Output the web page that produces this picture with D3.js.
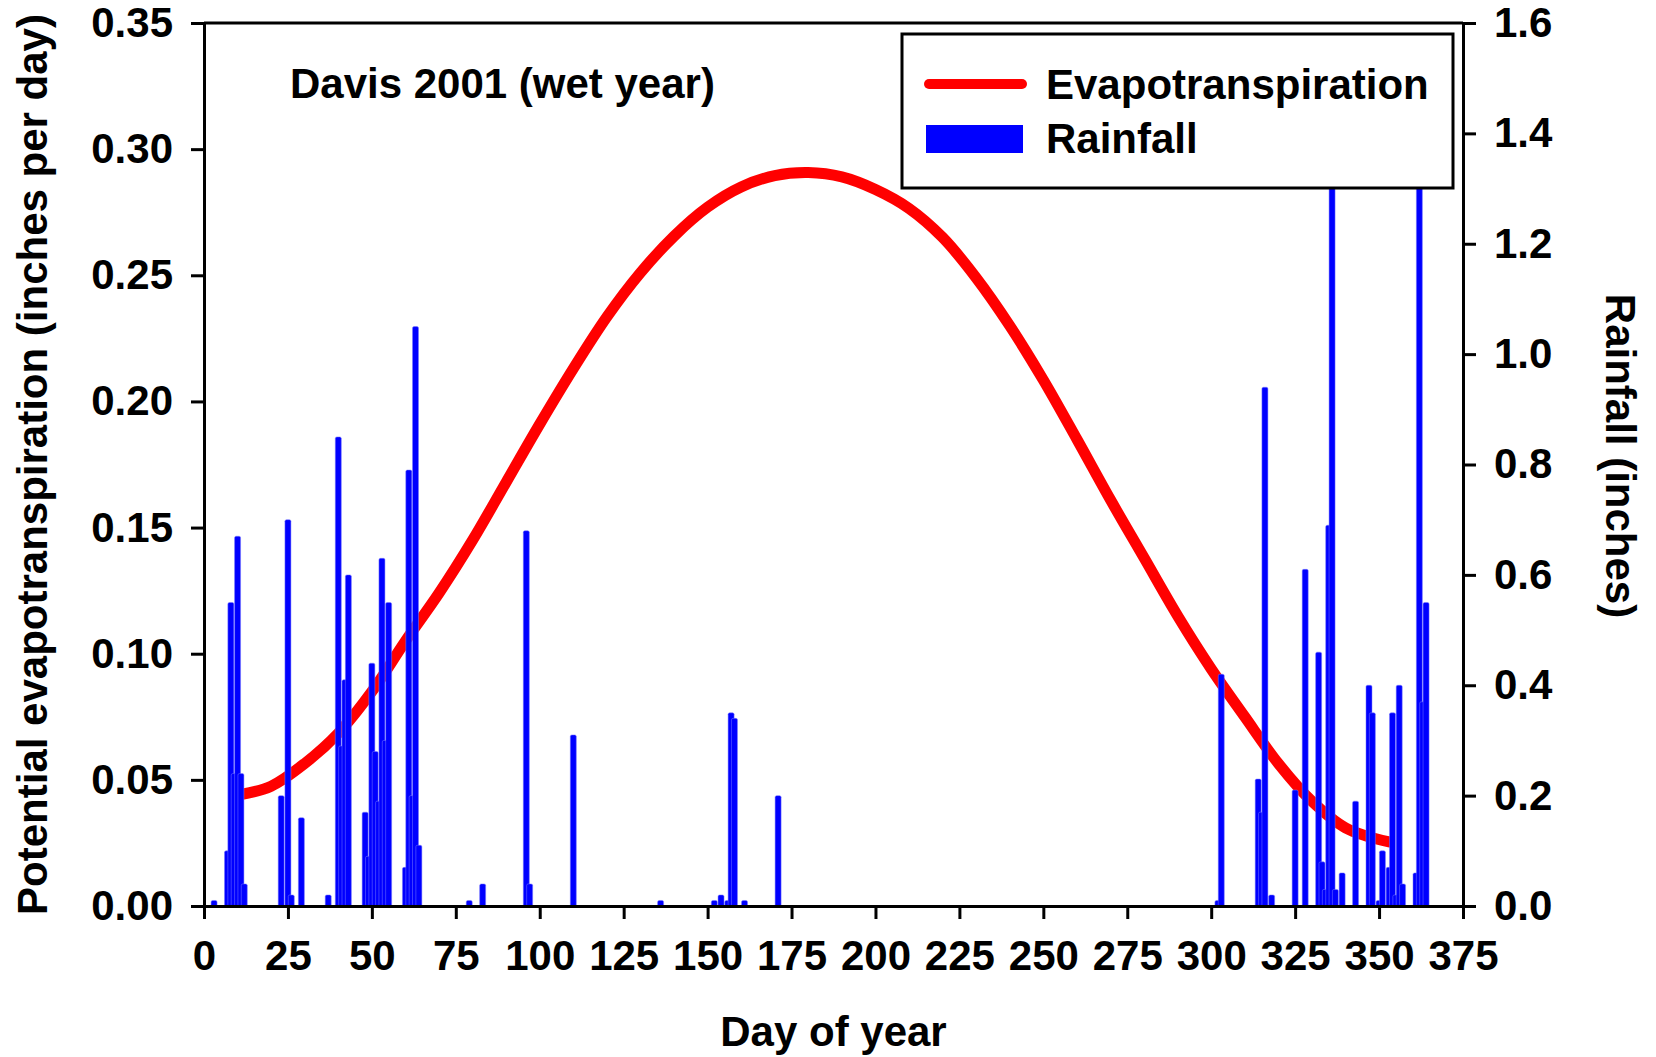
<!DOCTYPE html>
<html>
<head>
<meta charset="utf-8">
<script src="https://cdn.jsdelivr.net/npm/d3@7"></script>
<style>
  body { margin: 0; background: #fff; }
  svg text { font-family: "Liberation Sans", Arial, sans-serif; font-weight: bold; fill: #000; }
</style>
</head>
<body>
<svg id="chart"></svg>
<script>
// potential ET curve (day of year, inches per day)
const etDays = [11, 20, 30, 40, 50, 60, 70, 80, 90, 100, 110, 120, 130, 140, 150, 160, 170, 180,
  190, 200, 210, 220, 230, 240, 250, 260, 270, 280, 290, 300, 310, 320, 330, 340, 353];
const etValues = [0.0442, 0.0475, 0.0565, 0.0685, 0.0850, 0.1050, 0.1240, 0.1450, 0.1680, 0.1910,
  0.2130, 0.2335, 0.2510, 0.2655, 0.2770, 0.2850, 0.2895, 0.2907, 0.2890, 0.2840, 0.2765, 0.2650,
  0.2490, 0.2300, 0.2085, 0.1850, 0.1610, 0.1380, 0.1150, 0.0940, 0.0750, 0.0565, 0.0415, 0.0310, 0.0254];

// daily rainfall (inches)
const rainDays = [3, 7, 8, 9, 10, 11, 12, 23, 25, 26, 29, 37, 40, 41, 42, 43, 48, 49, 50, 51, 52, 53, 54, 55,
  60, 61, 62, 63, 64, 79, 83, 96, 97, 110, 136, 152, 154, 156, 157, 158, 161, 171,
  302, 303, 314, 315, 316, 318, 325, 328, 332, 333, 334, 335, 336, 337, 339, 343, 347, 348,
  350, 351, 353, 354, 355, 356, 357, 361, 362, 363, 364];
const rainValues = [0.01, 0.10, 0.55, 0.24, 0.67, 0.24, 0.04, 0.20, 0.70, 0.02, 0.16, 0.02, 0.85, 0.29, 0.41, 0.60,
  0.17, 0.09, 0.44, 0.28, 0.19, 0.63, 0.30, 0.55, 0.07, 0.79, 0.20, 1.05, 0.11, 0.01, 0.04, 0.68, 0.04, 0.31,
  0.01, 0.01, 0.02, 0.01, 0.35, 0.34, 0.01, 0.20,
  0.01, 0.42, 0.23, 0.17, 0.94, 0.02, 0.21, 0.61, 0.46, 0.08, 0.03, 0.69, 1.50, 0.03, 0.06, 0.19, 0.40, 0.35,
  0.01, 0.10, 0.07, 0.35, 0.02, 0.40, 0.04, 0.06, 1.50, 0.37, 0.55];

const xTicks = [0, 25, 50, 75, 100, 125, 150, 175, 200, 225, 250, 275, 300, 325, 350, 375];
const etTicks = [0, 0.05, 0.10, 0.15, 0.20, 0.25, 0.30, 0.35];
const rainTicks = [0, 0.2, 0.4, 0.6, 0.8, 1.0, 1.2, 1.4, 1.6];

const W = 1656, H = 1057;
const margin = {top: 23, right: 193, bottom: 151, left: 204};
const width = W - margin.left - margin.right,
      height = H - margin.top - margin.bottom;
const fontSize = "42px";

const svg = d3.select("#chart").attr("width", W).attr("height", H);
const chart = svg.append("g")
  .attr("transform", "translate(" + margin.left + "," + margin.top + ")");

const x = d3.scaleLinear().domain([0, 375]).range([0, width]);
const yEt = d3.scaleLinear().domain([0, 0.35]).range([height, 0]);
const yRain = d3.scaleLinear().domain([0, 1.6]).range([height, 0]);

// ET curve under the bars
const etData = etDays.map((d, i) => ({day: d, v: etValues[i]}));
chart.append("path")
  .datum(etData)
  .attr("fill", "none")
  .attr("stroke", "#ff0000")
  .attr("stroke-width", 11)
  .attr("stroke-linecap", "round")
  .attr("d", d3.line().x(d => x(d.day)).y(d => yEt(d.v)).curve(d3.curveCatmullRom.alpha(0.5)));

// rainfall bars
const rainData = rainDays.map((d, i) => ({day: d, v: rainValues[i]}));
const barW = 6;
chart.selectAll("rect.rain")
  .data(rainData)
  .enter()
  .append("rect")
  .attr("class", "rain")
  .attr("x", d => x(d.day) - barW / 2)
  .attr("y", d => yRain(d.v))
  .attr("width", barW)
  .attr("height", d => yRain(0) - yRain(d.v))
  .attr("rx", 1.5)
  .attr("fill", "#0000ff")
  .attr("stroke", "#7a7aff")
  .attr("stroke-width", 0.5);

// axes
function styleAxis(g) {
  g.select(".domain").attr("stroke", "#000").attr("stroke-width", 3);
  g.selectAll(".tick line").attr("stroke", "#000").attr("stroke-width", 3);
  g.selectAll(".tick text").style("font-size", fontSize);
}

chart.append("g")
  .attr("transform", "translate(0," + height + ")")
  .call(d3.axisBottom(x).tickValues(xTicks).tickSize(13).tickSizeOuter(0).tickPadding(21))
  .call(styleAxis);

chart.append("g")
  .call(d3.axisLeft(yEt).tickValues(etTicks).tickFormat(d3.format(".2f")).tickSize(13).tickSizeOuter(0).tickPadding(18))
  .call(styleAxis);

chart.append("g")
  .attr("transform", "translate(" + width + ",0)")
  .call(d3.axisRight(yRain).tickValues(rainTicks).tickFormat(d3.format(".1f")).tickSize(13).tickSizeOuter(0).tickPadding(18))
  .call(styleAxis);

// top frame line
chart.append("line")
  .attr("x1", 0).attr("x2", width)
  .attr("y1", 0).attr("y2", 0)
  .attr("stroke", "#000").attr("stroke-width", 3);

// titles
svg.append("text")
  .attr("x", margin.left + width / 2)
  .attr("y", 1046)
  .attr("text-anchor", "middle")
  .style("font-size", fontSize)
  .text("Day of year");

svg.append("text")
  .attr("transform", "translate(47," + (margin.top + height / 2) + ") rotate(-90)")
  .attr("text-anchor", "middle")
  .style("font-size", fontSize)
  .text("Potential evapotranspiration (inches per day)");

svg.append("text")
  .attr("transform", "translate(1606,456) rotate(90)")
  .attr("text-anchor", "middle")
  .style("font-size", fontSize)
  .text("Rainfall (inches)");

svg.append("text")
  .attr("x", 290)
  .attr("y", 98)
  .style("font-size", fontSize)
  .text("Davis 2001 (wet year)");

// legend, drawn over the tallest bars
const legend = svg.append("g");
legend.append("rect")
  .attr("x", 902).attr("y", 34)
  .attr("width", 551).attr("height", 154)
  .attr("fill", "#fff")
  .attr("stroke", "#000").attr("stroke-width", 3);
legend.append("line")
  .attr("x1", 929).attr("x2", 1022)
  .attr("y1", 84).attr("y2", 84)
  .attr("stroke", "#ff0000").attr("stroke-width", 10)
  .attr("stroke-linecap", "round");
legend.append("rect")
  .attr("x", 926).attr("y", 125)
  .attr("width", 97).attr("height", 28)
  .attr("fill", "#0000ff");
legend.append("text")
  .attr("x", 1046).attr("y", 99)
  .style("font-size", fontSize)
  .text("Evapotranspiration");
legend.append("text")
  .attr("x", 1046).attr("y", 153)
  .style("font-size", fontSize)
  .text("Rainfall");
</script>
</body>
</html>
